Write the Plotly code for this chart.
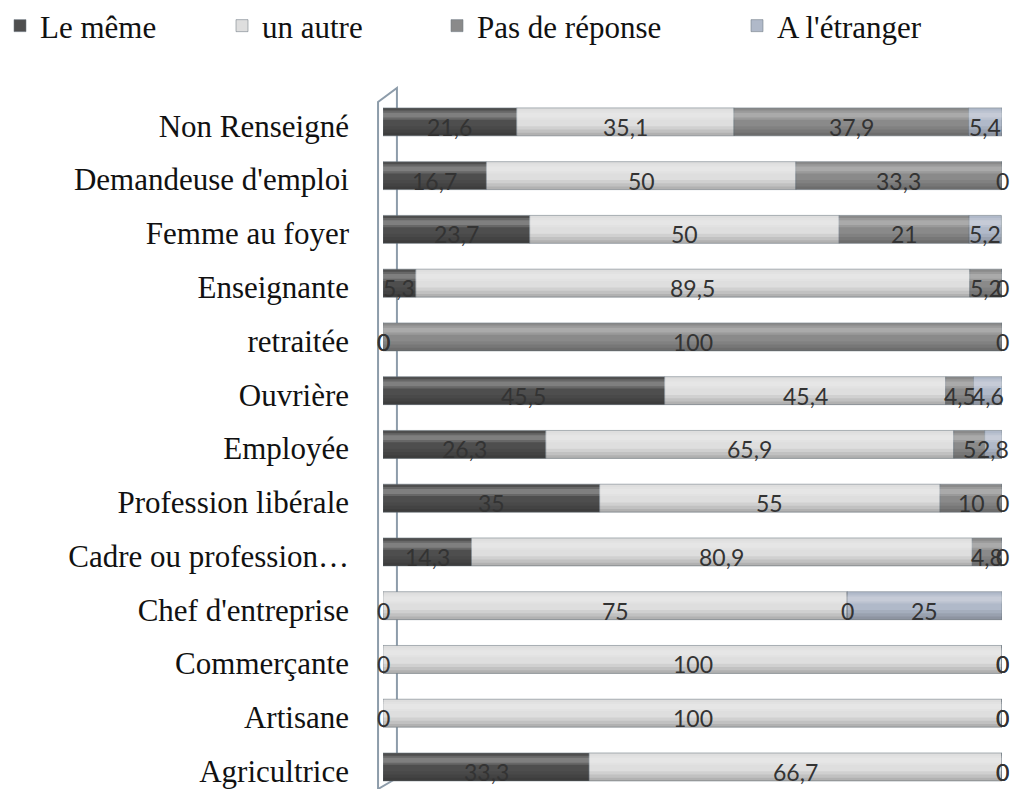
import plotly.graph_objects as go

categories = ["Non Renseigné", "Demandeuse d'emploi", "Femme au foyer", "Enseignante",
              "retraitée", "Ouvrière", "Employée", "Profession libérale",
              "Cadre ou profession…", "Chef d'entreprise", "Commerçante", "Artisane",
              "Agricultrice"]
le_meme = [21.6, 16.7, 23.7, 5.3, 0, 45.5, 26.3, 35, 14.3, 0, 0, 0, 33.3]
un_autre = [35.1, 50, 50, 89.5, 0, 45.4, 65.9, 55, 80.9, 75, 100, 100, 66.7]
pas_de_reponse = [37.9, 33.3, 21, 5.2, 100, 4.5, 5, 10, 4.8, 0, 0, 0, 0]
a_letranger = [5.4, 0, 5.2, 0, 0, 4.6, 2.8, 0, 0, 25, 0, 0, 0]

series = [
    ("Le même", le_meme, "#4e4e4e"),
    ("un autre", un_autre, "#dedede"),
    ("Pas de réponse", pas_de_reponse, "#8a8a8a"),
    ("A l'étranger", a_letranger, "#b0b9c9"),
]
legend_x = [-6, 222, 437, 737]

BAR_W = 0.52
fig = go.Figure()
cum = [0.0] * len(categories)
annotations = []
for i, (name, vals, col) in enumerate(series):
    lg = "legend" if i == 0 else f"legend{i+1}"
    base = list(cum)
    fig.add_trace(go.Bar(
        y=categories, x=vals, base=base, name=name, orientation="h",
        width=BAR_W,
        marker=dict(color=col, line=dict(color="rgba(110,120,130,0.55)", width=1)),
        legend=lg, hoverinfo="x+name",
    ))
    for j, v in enumerate(vals):
        annotations.append(dict(
            x=cum[j] + v / 2.0, y=categories[j], xref="x", yref="y",
            text=f"{v:g}".replace(".", ","), showarrow=False,
            font=dict(family="Lato, Liberation Sans, sans-serif", size=23, color="#333333"),
            yshift=-5,
        ))
        cum[j] += v

# cylinder shading: soft light bands on top, darker bands at the bottom
totals = list(cum)
bands = [
    (-0.21, 0.17, "rgba(255,255,255,0.14)"),
    (-0.17, 0.09, "rgba(255,255,255,0.16)"),
    (0.08, 0.18, "rgba(0,0,0,0.06)"),
    (0.14, 0.12, "rgba(0,0,0,0.07)"),
    (0.20, 0.06, "rgba(0,0,0,0.08)"),
]
for off, w, c in bands:
    fig.add_trace(go.Bar(y=categories, x=totals, orientation="h", width=w, offset=off,
                         marker=dict(color=c, line=dict(width=0)),
                         showlegend=False, hoverinfo="skip"))

layout_legends = {}
for i, (name, vals, col) in enumerate(series):
    key = "legend" if i == 0 else f"legend{i+1}"
    layout_legends[key] = dict(
        x=legend_x[i] / 1010, y=1 - 26 / 789, xref="container", yref="container",
        xanchor="left", yanchor="middle", orientation="h",
        font=dict(family="Liberation Serif, Times New Roman, serif", size=31, color="#111111"),
        bgcolor="rgba(0,0,0,0)", itemwidth=30,
    )

wall = "#8d9caa"
shapes = [
    dict(type="path", xref="paper", yref="paper",
         path="M -0.008,0 L -0.008,0.99 L 0.0225,1.0101 L 0.0225,0.0158 L -0.008,0",
         line=dict(color=wall, width=2), fillcolor="rgba(0,0,0,0)", layer="below"),
]

fig.update_layout(
    width=1010, height=789,
    barmode="overlay",
    plot_bgcolor="white", paper_bgcolor="white",
    margin=dict(l=383, r=8, t=95, b=0),
    annotations=annotations,
    shapes=shapes,
    showlegend=True,
    **layout_legends,
)
fig.update_xaxes(range=[0, 100], visible=False, fixedrange=True)
fig.update_yaxes(
    categoryorder="array", categoryarray=categories,
    range=[12.41, -0.5],
    showline=False, showgrid=False, zeroline=False, ticks="", ticklabelstandoff=33,
    ticklabelshift=-4,
    tickfont=dict(family="Liberation Serif, Times New Roman, serif", size=31, color="#111111"),
)

fig.write_html("out.html", config={"displayModeBar": False},
               post_script="document.body.style.margin='0';")
